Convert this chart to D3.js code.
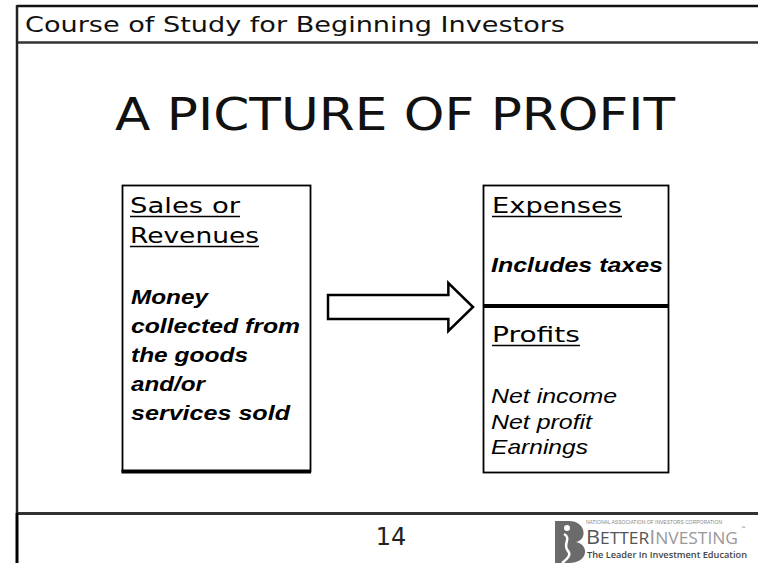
<!DOCTYPE html>
<html>
<head>
<meta charset="utf-8">
<script src="https://cdn.jsdelivr.net/npm/d3@7/dist/d3.min.js"></script>
<style>
  html, body { margin: 0; padding: 0; background: #fff; }
  svg { display: block; }
</style>
</head>
<body>
<div id="slide"></div>
<script>
// slide texts
const headerText = "Course of Study for Beginning Investors";
const titleText = "A PICTURE OF PROFIT";
const revenueLabel = ["Sales or", "Revenues"];
const revenueNotes = ["Money", "collected from", "the goods", "and/or", "services sold"];
const expenseLabel = ["Expenses"];
const expenseNotes = ["Includes taxes"];
const profitLabel = ["Profits"];
const profitNotes = ["Net income", "Net profit", "Earnings"];
const pageNumber = "14";
const logoLines = ["NATIONAL ASSOCIATION OF INVESTORS CORPORATION", "The Leader In Investment Education"];

// widths of each text run (the source font is wider than ours)
const runWidth = {
    "Course of Study for Beginning Investors": 540,
    "A PICTURE OF PROFIT": 560,
    "Sales or": 110, "Revenues": 129,
    "Money": 77, "collected from": 169, "the goods": 117, "and/or": 74, "services sold": 159,
    "Expenses": 130, "Includes taxes": 172, "Profits": 88,
    "Net income": 126, "Net profit": 101, "Earnings": 97
};

const width = 758, height = 563;
const sans = "'DejaVu Sans', Verdana, sans-serif";
const arial = "'Liberation Sans', Arial, sans-serif";

const svg = d3.select("#slide").append("svg")
    .attr("width", width)
    .attr("height", height);

// frame lines
const frame = svg.append("g").attr("fill", "none");
frame.append("line").attr("x1", 17).attr("x2", width).attr("y1", 6).attr("y2", 6)
    .attr("stroke", "#111").attr("stroke-width", 2.5);
frame.append("line").attr("x1", 17).attr("x2", width).attr("y1", 42.5).attr("y2", 42.5)
    .attr("stroke", "#333").attr("stroke-width", 2.5);
frame.append("line").attr("x1", 17).attr("x2", width).attr("y1", 513.5).attr("y2", 513.5)
    .attr("stroke", "#333").attr("stroke-width", 3);
frame.append("line").attr("x1", 17).attr("x2", 17).attr("y1", 5).attr("y2", 513)
    .attr("stroke", "#222").attr("stroke-width", 2.5);
frame.append("line").attr("x1", 17).attr("x2", 17).attr("y1", 513).attr("y2", height)
    .attr("stroke", "#000").attr("stroke-width", 3);

function fitText(sel) {
    sel.attr("textLength", d => runWidth[d] || null)
        .attr("lengthAdjust", "spacingAndGlyphs");
}

// header + title
svg.append("text")
    .datum(headerText)
    .attr("x", 25).attr("y", 32)
    .attr("font-family", sans).attr("font-size", 21)
    .attr("fill", "#111")
    .text(d => d)
    .call(fitText);

svg.append("text")
    .datum(titleText)
    .attr("x", 115).attr("y", 130)
    .attr("font-family", sans).attr("font-size", 44)
    .attr("fill", "#111")
    .text(d => d)
    .call(fitText);

// boxes
const boxes = svg.append("g").attr("fill", "#fff").attr("stroke", "#000");
boxes.append("rect").attr("x", 122.5).attr("y", 185.5).attr("width", 188).attr("height", 286)
    .attr("stroke-width", 1.8);
boxes.append("line").attr("x1", 121.5).attr("x2", 311).attr("y1", 471.5).attr("y2", 471.5)
    .attr("stroke-width", 4);
boxes.append("rect").attr("x", 483.5).attr("y", 185.5).attr("width", 185).attr("height", 287)
    .attr("stroke-width", 1.8);
boxes.append("line").attr("x1", 483).attr("x2", 669).attr("y1", 306).attr("y2", 306)
    .attr("stroke-width", 4);

// arrow
const arrowX = d3.scaleLinear().domain([0, 1]).range([328, 473]);
const arrowY = d3.scaleLinear().domain([-1, 1]).range([283, 331]);
const arrowShape = [[0, -0.5], [0.83, -0.5], [0.83, -1], [1, 0], [0.83, 1], [0.83, 0.5], [0, 0.5]];
svg.append("path")
    .attr("d", d3.line().x(d => arrowX(d[0])).y(d => arrowY(d[1]))(arrowShape) + "Z")
    .attr("fill", "#fff")
    .attr("stroke", "#000")
    .attr("stroke-width", 2.5)
    .attr("stroke-linejoin", "miter");

// text blocks
function block(lines, x, y0, step, opts) {
    const y = d3.scaleLinear().domain([0, 1]).range([y0, y0 + step]);
    const g = svg.append("g");
    const t = g.selectAll("text")
        .data(lines)
        .join("text")
        .attr("x", x)
        .attr("y", (d, i) => y(i))
        .attr("font-family", opts.family)
        .attr("font-size", opts.size)
        .attr("font-weight", opts.weight || "normal")
        .attr("font-style", opts.style || "normal")
        .attr("fill", "#000")
        .text(d => d)
        .call(fitText);
    if (opts.underline) {
        g.selectAll("line")
            .data(lines)
            .join("line")
            .attr("x1", x)
            .attr("x2", d => x + runWidth[d])
            .attr("y1", (d, i) => y(i) + 3.5)
            .attr("y2", (d, i) => y(i) + 3.5)
            .attr("stroke", "#000")
            .attr("stroke-width", 1.5);
    }
    return t;
}

const labelStyle = { family: sans, size: 22, underline: true };
block(revenueLabel, 130, 213, 30, labelStyle);
block(revenueNotes, 131, 304, 29, { family: arial, size: 21, weight: "bold", style: "italic" });
block(expenseLabel, 492, 213, 30, labelStyle);
block(expenseNotes, 491, 272, 26, { family: arial, size: 21, weight: "bold", style: "italic" });
block(profitLabel, 492, 342, 30, labelStyle);
block(profitNotes, 491, 403, 25.5, { family: arial, size: 21, style: "italic" });

// page number
svg.append("text")
    .attr("x", 391).attr("y", 545)
    .attr("text-anchor", "middle")
    .attr("font-family", sans).attr("font-size", 24)
    .attr("fill", "#222")
    .text(pageNumber);

// BetterInvesting logo
const logo = svg.append("g");
logo.append("path")
    .attr("d", "M555,521 L569,521 C586,521 588,540 576,542 C590,545 588,563 569,563 L555,563 Z")
    .attr("fill", "#6b6b6b");
logo.append("circle").attr("cx", 567).attr("cy", 528).attr("r", 3).attr("fill", "#fff");
logo.append("path")
    .attr("d", "M564,534 C572,538 562,545 568,551 C572,555 566,560 562,563")
    .attr("fill", "none").attr("stroke", "#fff").attr("stroke-width", 2.5);

logo.append("text")
    .attr("x", 586).attr("y", 524)
    .attr("font-family", arial).attr("font-size", 4.5)
    .attr("fill", "#888")
    .attr("textLength", 136).attr("lengthAdjust", "spacingAndGlyphs")
    .text(logoLines[0]);

const brand = logo.append("text")
    .attr("x", 586).attr("y", 544)
    .attr("font-family", "'Open Sans', sans-serif")
    .attr("textLength", 152).attr("lengthAdjust", "spacingAndGlyphs");
brand.append("tspan").attr("font-size", 20).attr("fill", "#555").text("B");
brand.append("tspan").attr("font-size", 16).attr("fill", "#555").text("ETTER");
brand.append("tspan").attr("font-size", 20).attr("fill", "#999").text("I");
brand.append("tspan").attr("font-size", 16).attr("fill", "#999").text("NVESTING");
logo.append("text")
    .attr("x", 741).attr("y", 529)
    .attr("font-family", arial).attr("font-size", 4)
    .attr("fill", "#666")
    .text("™");

logo.append("text")
    .attr("x", 587).attr("y", 558)
    .attr("font-family", "'Open Sans', sans-serif").attr("font-size", 9.5)
    .attr("font-weight", 600)
    .attr("fill", "#444")
    .attr("textLength", 160).attr("lengthAdjust", "spacingAndGlyphs")
    .text(logoLines[1]);
</script>
</body>
</html>
